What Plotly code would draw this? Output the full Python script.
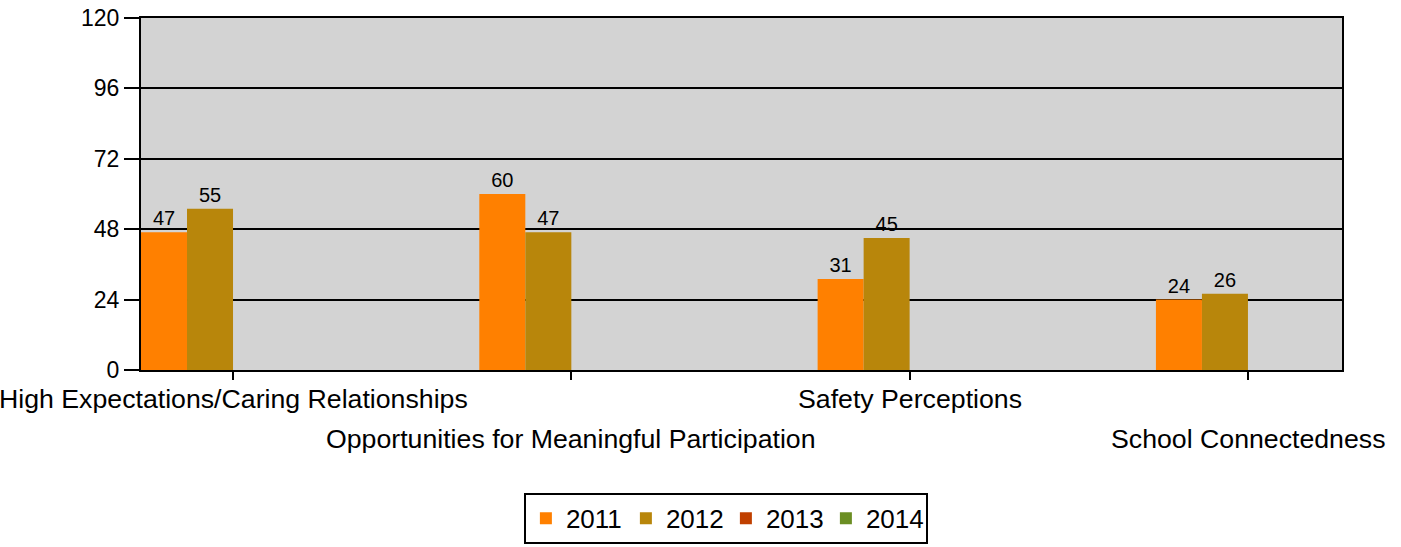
import plotly.graph_objects as go

categories = [
    "High Expectations/Caring Relationships",
    "Opportunities for Meaningful Participation",
    "Safety Perceptions",
    "School Connectedness",
]
years = ["2011", "2012", "2013", "2014"]
values_2011 = [47, 60, 31, 24]
values_2012 = [55, 47, 45, 26]
values_2013 = [None, None, None, None]
values_2014 = [None, None, None, None]
series = [values_2011, values_2012, values_2013, values_2014]
colors = ["#FF8000", "#B8860B", "#C04000", "#6B8E23"]
y_ticks = [0, 24, 48, 72, 96, 120]

FONT = "Liberation Sans, Arial, sans-serif"

fig = go.Figure()
for yr, vals, col in zip(years, series, colors):
    fig.add_trace(go.Bar(
        x=categories, y=vals, name=yr, marker=dict(color=col, line=dict(width=0)),
        text=[str(v) if v is not None else "" for v in vals],
        textposition="outside", cliponaxis=False,
        textfont=dict(family=FONT, size=20, color="#000000"),
    ))

annotations = []
for i, cat in enumerate(categories):
    annotations.append(dict(
        x=cat, xref="x", y=0, yref="paper", yanchor="middle", xanchor="center",
        yshift=-29 if i % 2 == 0 else -69, showarrow=False, text=cat,
        font=dict(family=FONT, size=26.7, color="#000000"),
    ))

fig.update_layout(
    width=1401, height=547,
    margin=dict(l=141, r=59, t=18, b=177, autoexpand=False),
    paper_bgcolor="#FFFFFF", plot_bgcolor="#D3D3D3",
    barmode="group", bargap=0.456, bargroupgap=0,
    font=dict(family=FONT, color="#000000"),
    annotations=annotations,
    legend=dict(
        orientation="h", x=0.487, xanchor="center", y=-0.349, yanchor="top",
        bordercolor="#000000", borderwidth=2, bgcolor="#FFFFFF",
        font=dict(family=FONT, size=26, color="#000000"),
        traceorder="normal", itemclick=False, entrywidth=55,
    ),
    showlegend=True,
)
fig.update_xaxes(
    type="category", range=[-0.272, 3.278], showticklabels=False,
    ticks="outside", ticklen=8, tickwidth=2, tickcolor="#000000",
    showline=True, linecolor="#000000", linewidth=2, mirror=True,
    showgrid=False, fixedrange=True,
)
fig.update_yaxes(
    range=[0, 120], tickmode="array", tickvals=y_ticks,
    ticks="outside", ticklen=15, tickwidth=2, tickcolor="#000000",
    tickfont=dict(family=FONT, size=23, color="#000000"),
    showline=True, linecolor="#000000", linewidth=2, mirror=True,
    showgrid=True, gridcolor="#000000", gridwidth=2, zeroline=False,
    fixedrange=True,
)

fig.write_html(
    "out.html",
    config={"displayModeBar": False},
    post_script="document.body.style.margin='0px';",
)
